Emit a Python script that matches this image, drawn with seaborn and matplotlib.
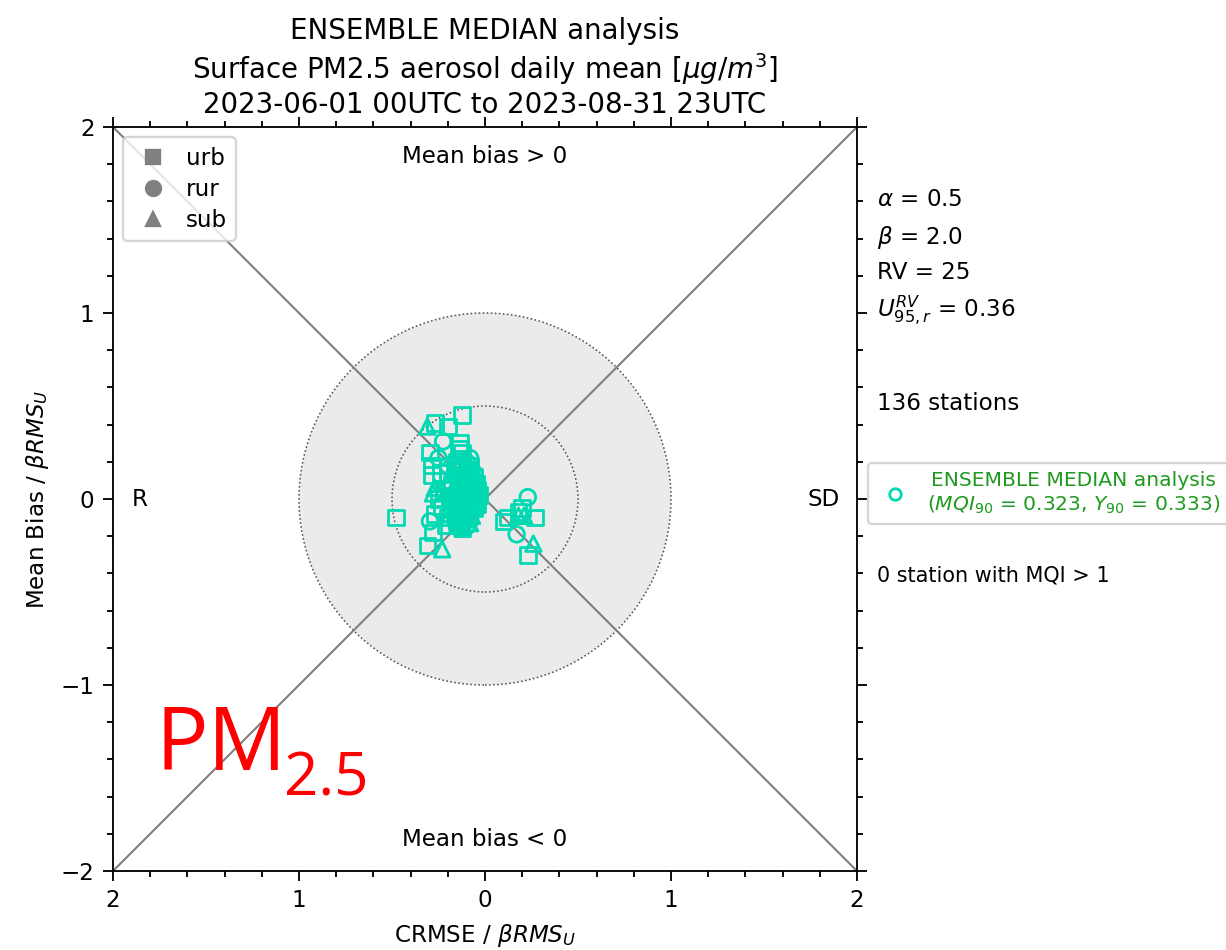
import numpy as np
import pandas as pd
import matplotlib
matplotlib.use("Agg")
import matplotlib.pyplot as plt
from matplotlib.lines import Line2D
from matplotlib.patches import Circle
from matplotlib.ticker import MultipleLocator, FuncFormatter
import seaborn as sns

# ---- station scores (x: signed CRMSE / beta RMS_U, y: mean bias / beta RMS_U) ----
urb_x = [-0.124, -0.27, -0.20, -0.134, -0.296, -0.124, -0.285, -0.285, -0.24, -0.48,
         -0.28, -0.31, -0.27, 0.20, 0.12, 0.27, 0.10, 0.23, 0.18, -0.14,
         -0.05, -0.04, -0.06, -0.20, -0.18, -0.22, -0.10, -0.08, -0.15, -0.12,
         -0.17, -0.05, -0.09, -0.20, -0.13, -0.07, -0.16, -0.11, -0.23, -0.06,
         -0.14, -0.19, -0.03, -0.10, -0.25, -0.15, -0.12, -0.08, -0.21, -0.04]
urb_y = [0.45, 0.41, 0.39, 0.30, 0.25, 0.25, 0.18, 0.13, 0.14, -0.10,
         -0.18, -0.25, -0.08, -0.05, -0.10, -0.10, -0.12, -0.30, -0.07, 0.27,
         0.00, 0.05, -0.05, -0.10, 0.08, 0.05, 0.15, 0.10, -0.12, 0.12,
         -0.05, 0.08, -0.10, 0.10, 0.05, -0.02, 0.15, -0.06, -0.04, 0.12,
         -0.14, 0.00, 0.02, 0.03, 0.00, 0.20, -0.02, 0.18, -0.14, -0.03]

rur_x = [-0.225, -0.25, -0.20, -0.296, 0.23, 0.17,
         -0.10, -0.12, -0.08, -0.14, -0.09, -0.11, -0.13, -0.07, -0.15, -0.10,
         -0.06, -0.12, -0.16, -0.08, -0.11, -0.05, -0.13, -0.09, -0.17, -0.07,
         -0.12, -0.10, -0.14, -0.06, -0.18, -0.11, -0.08, -0.15, -0.09, -0.13,
         -0.07, -0.10, -0.16, -0.12, -0.05, -0.14, -0.09, -0.11, -0.19, -0.08,
         -0.10, -0.06, -0.13, -0.17, -0.12, -0.09, -0.07, -0.14, -0.11, -0.08,
         -0.15, -0.10]
rur_y = [0.31, 0.22, 0.18, -0.12, 0.01, -0.19,
         0.00, 0.03, 0.05, -0.02, -0.04, 0.08, 0.10, 0.01, 0.04, -0.08,
         0.06, -0.06, -0.08, 0.12, 0.14, 0.03, -0.10, 0.09, 0.02, -0.07,
         0.17, 0.20, 0.07, -0.01, -0.03, -0.12, -0.11, 0.12, 0.02, 0.00,
         0.10, 0.11, -0.12, -0.14, -0.05, 0.16, 0.16, 0.05, 0.06, -0.02,
         -0.15, 0.14, 0.13, -0.06, 0.01, 0.07, 0.04, -0.05, -0.03, 0.22,
         0.00, 0.04]

sub_x = [-0.31, -0.28, -0.27, -0.23, 0.18, 0.21, 0.26, -0.12,
         -0.10, -0.13, -0.08, -0.16, -0.12, -0.07, -0.14, -0.09, -0.11, -0.18,
         -0.06, -0.13, -0.10, -0.15, -0.08, -0.12, -0.20, -0.05, -0.16, -0.11]
sub_y = [0.39, 0.03, 0.06, -0.27, -0.09, -0.09, -0.24, -0.155,
         -0.06, 0.06, 0.03, -0.10, -0.16, -0.09, 0.09, 0.13, -0.01, 0.04,
         0.08, -0.08, 0.18, -0.14, -0.13, 0.11, -0.08, 0.01, 0.19, 0.06]

station_types = ["urb", "rur", "sub"]
model_name = "ENSEMBLE MEDIAN analysis"
mqi90 = 0.323
y90 = 0.333
alpha_val, beta_val, rv_val, u95_val = 0.5, 2.0, 25, 0.36
n_stations = 136
n_exceed = 0

df = pd.DataFrame({
    "x": urb_x + rur_x + sub_x,
    "y": urb_y + rur_y + sub_y,
    "type": ["urb"] * len(urb_x) + ["rur"] * len(rur_x) + ["sub"] * len(sub_x),
})

teal = "#00d9b2"
marker_map = {"urb": "s", "rur": "o", "sub": "^"}

sns.set_style("ticks")
plt.rcParams["font.family"] = ["DejaVu Sans"]
plt.rcParams["mathtext.fontset"] = "dejavusans"
for key in ["text.color", "axes.labelcolor", "xtick.color", "ytick.color",
            "axes.edgecolor", "axes.titlecolor"]:
    plt.rcParams[key] = "black"

dpi = 166
fig = plt.figure(figsize=(1226 / dpi, 950 / dpi), dpi=dpi)
ax = fig.add_axes([113 / 1226, 1 - 871 / 950, 744 / 1226, 744 / 950])

# target circles
ax.add_patch(Circle((0, 0), 1.0, facecolor="#ebebeb", edgecolor="#555555",
                    linestyle=(0, (1, 1.5)), linewidth=0.7, zorder=0))
ax.add_patch(Circle((0, 0), 0.5, facecolor="none", edgecolor="#555555",
                    linestyle=(0, (1, 1.5)), linewidth=0.7, zorder=1))

# diagonals
ax.plot([-2, 2], [2, -2], color="#7f7f7f", lw=0.9, zorder=1)
ax.plot([-2, 2], [-2, 2], color="#7f7f7f", lw=0.9, zorder=1)

sns.scatterplot(data=df, x="x", y="y", style="type", markers=marker_map,
                style_order=station_types, s=46, color=teal,
                facecolor="none", edgecolor=teal, linewidth=1.2,
                legend=False, ax=ax, zorder=3)

ax.set_xlim(-2, 2)
ax.set_ylim(-2, 2)
ax.set_aspect("equal")

for s in ax.spines.values():
    s.set_visible(True)
    s.set_linewidth(0.8)
    s.set_color("black")
ax.xaxis.set_major_locator(MultipleLocator(1))
ax.yaxis.set_major_locator(MultipleLocator(1))
ax.xaxis.set_minor_locator(MultipleLocator(0.2))
ax.yaxis.set_minor_locator(MultipleLocator(0.2))
ax.xaxis.set_major_formatter(FuncFormatter(lambda v, p: f"{abs(v):.0f}"))
ax.yaxis.set_major_formatter(FuncFormatter(lambda v, p: f"{v:.0f}".replace("-", "\u2212")))
ax.tick_params(which="both", direction="out", top=True, right=True,
               labeltop=False, labelright=False, labelsize=10, width=0.8,
               color="black", labelcolor="black")
ax.tick_params(which="major", length=4.5)
ax.tick_params(which="minor", length=2.5)

ax.set_xlabel(r"CRMSE / $\beta RMS_U$", fontsize=10)
ax.set_ylabel(r"Mean Bias / $\beta RMS_U$", fontsize=10)
ax.set_title(f"{model_name}\nSurface PM2.5 aerosol daily mean [$\\mu g/m^3$]\n"
             "2023-06-01 00UTC to 2023-08-31 23UTC", fontsize=12, pad=6)

ax.text(0, 1.84, "Mean bias > 0", ha="center", va="center", fontsize=10)
ax.text(0, -1.83, "Mean bias < 0", ha="center", va="center", fontsize=10)
ax.text(-1.855, 0, "R", ha="center", va="center", fontsize=10)
ax.text(1.82, 0, "SD", ha="center", va="center", fontsize=10)

# station-type legend
type_handles = [Line2D([], [], marker=marker_map[t], linestyle="none",
                       color="#808080", markersize=6.5, label=t)
                for t in station_types]
leg1 = ax.legend(handles=type_handles, loc="upper left", fontsize=10,
                 frameon=True, handletextpad=0.5, borderaxespad=0.45,
                 labelspacing=0.35, handlelength=1.8)
ax.add_artist(leg1)

# model legend
model_handle = Line2D([], [], marker="o", linestyle="none", markerfacecolor="none",
                      markeredgecolor=teal, markeredgewidth=1.2, markersize=5,
                      label=f"{model_name}\n($MQI_{{90}}$ = {mqi90}, $Y_{{90}}$ = {y90})")
leg2 = ax.legend(handles=[model_handle], loc="center left",
                 bbox_to_anchor=(1.001, 0.507), fontsize=8.8, frameon=True,
                 handletextpad=0.6, handlelength=1.9)
for t in leg2.get_texts():
    t.set_color("#1e9a1e")
    t.set_multialignment("center")

# side annotations
side = dict(transform=ax.transAxes, ha="left", va="center", fontsize=10)
ax.text(1.027, 0.902, rf"$\alpha$ = {alpha_val}", **side)
ax.text(1.027, 0.852, rf"$\beta$ = {beta_val}", **side)
ax.text(1.027, 0.804, f"RV = {rv_val}", **side)
ax.text(1.027, 0.754, rf"$U_{{95,r}}^{{RV}}$ = {u95_val}", **side)
ax.text(1.027, 0.628, f"{n_stations} stations", **side)
ax.text(1.027, 0.397, f"{n_exceed} station with MQI > 1",
        transform=ax.transAxes, ha="left", va="center", fontsize=9)

# pollutant tag
fig.text(155 / 1226, 1 - 770 / 950, "PM", color="red", fontsize=38,
         family=["Open Sans", "DejaVu Sans"], ha="left", va="baseline")
fig.text(284 / 1226, 1 - 795 / 950, "2.5", color="red", fontsize=26,
         family=["Open Sans", "DejaVu Sans"], ha="left", va="baseline")

fig.savefig("out.png", dpi=dpi)
